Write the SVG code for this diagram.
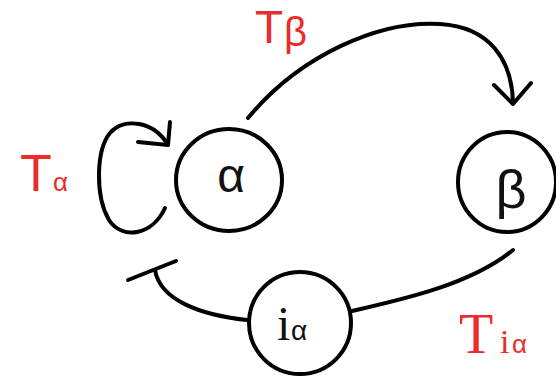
<svg xmlns="http://www.w3.org/2000/svg" width="556" height="377" viewBox="0 0 556 377">
<style>
.node{fill:none;stroke:#000;stroke-width:4}
.edge{fill:none;stroke:#000;stroke-width:4;stroke-linecap:round;stroke-linejoin:round}
.lbl{fill:#111;font-family:"Liberation Sans","DejaVu Sans",sans-serif}
.ser{font-family:"Liberation Serif","DejaVu Serif",serif}
.red{fill:#ec2b2b}
</style>
<rect width="556" height="377" fill="#fff"/>
<g id="connectors">
<path class="edge" d="M165,208 C152,236 122,240 109,220 C95,196 96,150 110,133 C124,117 154,121 168,145"/>
<path class="edge" d="M138,142 L168,145 L170,122"/>
<path class="edge" d="M248,118 C300,55 380,20 440,24 C490,27 512,60 513,103"/>
<path class="edge" d="M494,85 L513,104 L531,83"/>
<path class="edge" d="M513,250 C470,285 400,300 352,311"/>
<path class="edge" d="M247,320 C200,315 160,300 155,270"/>
<path class="edge" d="M128,280 L176,261"/>
</g>
<g id="node-alpha">
<ellipse class="node" cx="229" cy="180" rx="53" ry="51"/>
<text class="lbl" x="231" y="192" font-size="48" text-anchor="middle">α</text>
</g>
<g id="node-beta">
<ellipse class="node" cx="507" cy="182" rx="49" ry="50"/>
<text class="lbl" x="511" y="208" font-size="54" text-anchor="middle">β</text>
</g>
<g id="node-ialpha">
<circle class="node" cx="300" cy="323" r="51"/>
<text class="lbl ser" x="277" y="340" font-size="48">i</text>
<text class="lbl" x="291" y="340" font-size="28">α</text>
</g>
<g id="labels">
<text class="red" x="20" y="191" font-size="52" font-family="Liberation Sans, sans-serif">T</text>
<text class="red" x="53" y="191" font-size="26" font-family="Liberation Sans, sans-serif">α</text>
<text class="red" x="255" y="43" font-size="46" font-family="Liberation Sans, sans-serif">T</text>
<text class="red" x="284" y="46" font-size="40" font-family="Liberation Sans, sans-serif">β</text>
<text class="red" x="459" y="353" font-size="56" font-family="Liberation Serif, serif">T</text>
<text class="red" x="500" y="353" font-size="34" font-family="Liberation Serif, serif">i</text>
<text class="red" x="512" y="353" font-size="26" font-family="Liberation Sans, sans-serif">α</text>
</g>
</svg>
